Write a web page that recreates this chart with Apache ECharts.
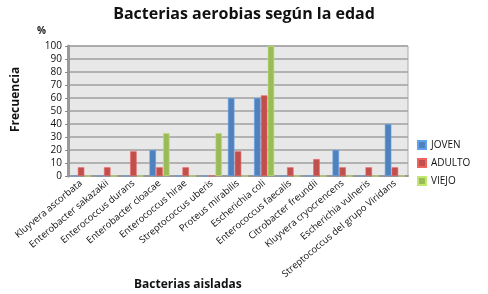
<!DOCTYPE html>
<html>
<head>
<meta charset="utf-8">
<script src="https://cdn.jsdelivr.net/npm/echarts@6/dist/echarts.min.js"></script>
<style>html,body{margin:0;padding:0;background:#fff}#c{width:488px;height:294px}</style>
</head>
<body>
<div id="c"></div>
<script>
var categories = ["Kluyvera ascorbata","Enterobacter sakazakii","Enterococcus durans","Enterobacter cloacae","Enterococcus hirae","Streptococcus uberis","Proteus mirabilis","Escherichia coli","Enterococcus faecalis","Citrobacter freundii","Kluyvera cryocrencens","Escherichia vulneris","Streptococcus del grupo Viridans"];
var joven  = [0, 0, 0, 20, 0, 0, 60, 60, 0, 0, 20, 0, 40];
var adulto = [6.7, 6.7, 19, 6.7, 6.7, 0, 19, 62, 6.7, 13, 6.7, 6.7, 6.7];
var viejo  = [0, 0, 0, 33, 0, 33, 0, 100, 0, 0, 0, 0, 0];
var yTicks = [0,10,20,30,40,50,60,70,80,90,100];

var font = "Open Sans";
var chart = echarts.init(document.getElementById('c'));
function ser(name, data, color) {
  return {
    name: name, type: 'bar', data: data, barWidth: 6.5, barGap: '5%',
    itemStyle: { color: color, borderColor: echarts.color.lift(color, -0.25), borderWidth: 0.6 }
  };
}
chart.setOption({
  animation: false,
  textStyle: { fontFamily: font },
  title: [
    { text: 'Bacterias aerobias según la edad', left: 'center', top: 1, textStyle: { fontFamily: font, fontWeight: 'bold', fontSize: 16, color: '#111' } },
    { text: 'Bacterias aisladas', left: 129, top: 274, textStyle: { fontFamily: font, fontWeight: 'bold', fontSize: 12, color: '#111' } }
  ],
  graphic: [
    { type: 'text', x: 10, y: 132, rotation: Math.PI / 2, style: { text: 'Frecuencia', font: 'bold 12px "Open Sans"', fill: '#111' } }
  ],
  legend: {
    orient: 'vertical', left: 412, top: 135, itemWidth: 8, itemHeight: 8, itemGap: 8,
    icon: 'rect', textStyle: { fontFamily: font, fontSize: 10, color: '#111' },
    data: ['JOVEN','ADULTO','VIEJO']
  },
  grid: { left: 68, right: 80, top: 46, bottom: 118, show: true, backgroundColor: '#e8e8e8', borderColor: '#aaa', borderWidth: 1 },
  xAxis: {
    type: 'category', data: categories,
    axisLine: { lineStyle: { color: '#999', width: 2 } },
    axisTick: { show: false },
    axisLabel: { rotate: 40, fontSize: 9.5, color: '#111', interval: 0, margin: 6, fontFamily: font }
  },
  yAxis: {
    type: 'value', min: 0, max: 100, interval: 10,
    name: '%', nameLocation: 'end', nameGap: 10, nameTextStyle: { fontSize: 10, fontWeight: 'bold', color: '#222', align: 'right', padding: [0, 22, 0, 0] },
    axisLine: { show: true, lineStyle: { color: '#999', width: 3 } },
    axisTick: { show: true, length: 3, lineStyle: { color: '#888' } },
    axisLabel: { fontSize: 10, color: '#111', margin: 6, fontFamily: font, formatter: function (v) { return yTicks.indexOf(v) >= 0 ? String(v) : ''; } },
    splitLine: { lineStyle: { color: '#a0a0a0', width: 1.5 } }
  },
  series: [ser('JOVEN', joven, '#4f81bd'), ser('ADULTO', adulto, '#c0504d'), ser('VIEJO', viejo, '#9bbb59')]
});
</script>
</body>
</html>
